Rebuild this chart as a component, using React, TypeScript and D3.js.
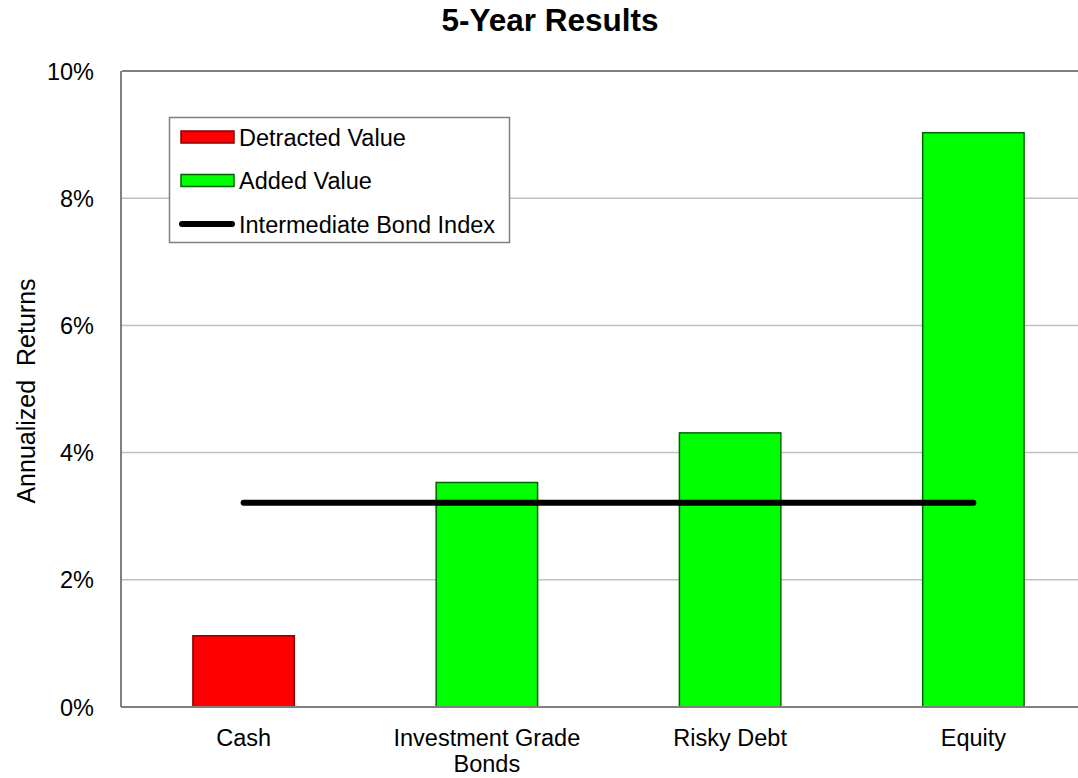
import React from "react";
import * as d3 from "d3";

const categories = ["Cash", "Investment Grade\nBonds", "Risky Debt", "Equity"];
const returns = [0.0112, 0.0353, 0.0431, 0.0903];
const barKind = ["detracted", "added", "added", "added"];
const benchmarkValue = 0.0321;
const yTicks = [0, 0.02, 0.04, 0.06, 0.08, 0.1];
const legendItems = [
  { label: "Detracted Value", kind: "detracted" },
  { label: "Added Value", kind: "added" },
  { label: "Intermediate Bond Index", kind: "line" },
];

const W = 1078;
const H = 778;
const FONT = "'Liberation Sans', Arial, sans-serif";

const fills: Record<string, string> = { detracted: "#FF0000", added: "#00FF00" };
const strokes: Record<string, string> = { detracted: "#8B0000", added: "#006400" };

export default function App() {
  const left = 122;
  const right = 1095;
  const top = 71;
  const bottom = 707;

  const x = d3
    .scaleBand<string>()
    .domain(categories)
    .range([left, right])
    .paddingInner(0.583)
    .paddingOuter(0.2915);
  const y = d3.scaleLinear().domain([0, 0.1]).range([bottom, top]);

  const benchPts = [benchmarkValue, benchmarkValue];
  const benchX = [categories[0], categories[categories.length - 1]];
  const benchPath = d3
    .line<number>()
    .x((_, i) => (x(benchX[i]) as number) + x.bandwidth() / 2)
    .y((v) => y(v))(benchPts) as string;

  const legX = 169.5;
  const legY = 117.5;
  const legW = 340;
  const legH = 125;
  const rowGap = 43.5;

  return (
    <svg
      width={W}
      height={H}
      style={{ position: "absolute", left: 0, top: 0, background: "#fff" }}
      fontFamily={FONT}
    >
      <rect x={0} y={0} width={W} height={H} fill="#fff" />
      <text x={550} y={31} textAnchor="middle" fontSize={31.5} fontWeight="bold" fill="#000">
        5-Year Results
      </text>

      {/* gridlines */}
      {yTicks.map((t) => (
        <line
          key={"g" + t}
          x1={left}
          x2={right}
          y1={y(t)}
          y2={y(t)}
          stroke={t === 0.1 ? "#808080" : "#C0C0C0"}
          strokeWidth={t === 0.1 ? 2 : 1.5}
        />
      ))}

      {/* y tick labels */}
      {yTicks.map((t) => (
        <text
          key={"t" + t}
          x={94}
          y={y(t) + 8.5}
          textAnchor="end"
          fontSize={23.5}
          fill="#000"
        >
          {d3.format(".0%")(t)}
        </text>
      ))}

      <text
        transform={`translate(35,391) rotate(-90)`}
        textAnchor="middle"
        fontSize={25}
        fill="#000"
        xmlSpace="preserve"
      >
        {"Annualized  Returns"}
      </text>

      {/* bars */}
      {categories.map((c, i) => (
        <rect
          key={c}
          x={x(c)}
          y={y(returns[i])}
          width={x.bandwidth()}
          height={y(0) - y(returns[i])}
          fill={fills[barKind[i]]}
          stroke={strokes[barKind[i]]}
          strokeWidth={1.5}
        />
      ))}

      {/* axes lines */}
      <line x1={left - 1} x2={left - 1} y1={top} y2={bottom} stroke="#808080" strokeWidth={2} />
      <line x1={left - 1} x2={right} y1={bottom} y2={bottom} stroke="#808080" strokeWidth={2} />

      {/* benchmark line */}
      <path d={benchPath} stroke="#000" strokeWidth={6} strokeLinecap="round" fill="none" />

      {/* category labels */}
      {categories.map((c) => {
        const cx = (x(c) as number) + x.bandwidth() / 2;
        const lines = c.split("\n");
        return (
          <text key={"c" + c} x={cx} textAnchor="middle" fontSize={23.5} fill="#000">
            {lines.map((ln, k) => (
              <tspan key={k} x={cx} y={746 + k * 26}>
                {ln}
              </tspan>
            ))}
          </text>
        );
      })}

      {/* legend */}
      <rect x={legX} y={legY} width={legW} height={legH} fill="#fff" stroke="#808080" strokeWidth={1.5} />
      {legendItems.map((it, i) => {
        const cy = 137 + i * rowGap;
        return (
          <g key={it.label}>
            {it.kind === "line" ? (
              <line x1={182} x2={232} y1={cy} y2={cy} stroke="#000" strokeWidth={6} strokeLinecap="round" />
            ) : (
              <rect
                x={181}
                y={cy - 6}
                width={53}
                height={12}
                fill={fills[it.kind]}
                stroke={strokes[it.kind]}
                strokeWidth={1.5}
              />
            )}
            <text x={239} y={cy + 8.5} fontSize={23.5} fill="#000">
              {it.label}
            </text>
          </g>
        );
      })}
    </svg>
  );
}
